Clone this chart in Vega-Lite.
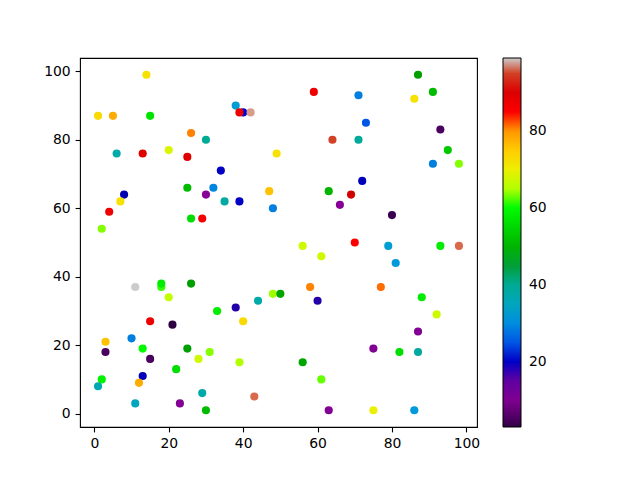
{
  "$schema": "https://vega.github.io/schema/vega-lite/v6.json",
  "width": 397,
  "height": 369,
  "autosize": {"type": "none"},
  "padding": {"left": 80, "top": 58, "right": 163, "bottom": 53},
  "background": "white",
  "config": {
    "view": {"stroke": "black", "strokeWidth": 1.1},
    "font": "DejaVu Sans",
    "axis": {
      "grid": false,
      "domain": false,
      "tickColor": "black",
      "tickSize": 4.9,
      "tickWidth": 1.1,
      "labelFont": "DejaVu Sans",
      "labelFontSize": 13.9,
      "labelColor": "black",
      "labelPadding": 4.9,
      "title": null
    }
  },
  "data": {
    "values": [
      {"x": 14, "y": 99, "c": 72}, {"x": 1, "y": 87, "c": 73}, {"x": 5, "y": 87, "c": 78}, {"x": 15, "y": 87, "c": 57},
      {"x": 26, "y": 82, "c": 81}, {"x": 30, "y": 80, "c": 40}, {"x": 6, "y": 76, "c": 37}, {"x": 13, "y": 76, "c": 89},
      {"x": 20, "y": 77, "c": 68}, {"x": 25, "y": 75, "c": 89}, {"x": 59, "y": 94, "c": 87}, {"x": 38, "y": 90, "c": 33},
      {"x": 40, "y": 88, "c": 21}, {"x": 39, "y": 88, "c": 87}, {"x": 42, "y": 88, "c": 97.5}, {"x": 64, "y": 80, "c": 95},
      {"x": 49, "y": 76, "c": 72}, {"x": 34, "y": 71, "c": 20}, {"x": 32, "y": 66, "c": 29}, {"x": 87, "y": 99, "c": 47},
      {"x": 91, "y": 94, "c": 51}, {"x": 86, "y": 92, "c": 72}, {"x": 71, "y": 93, "c": 28}, {"x": 73, "y": 85, "c": 25},
      {"x": 93, "y": 83, "c": 5}, {"x": 71, "y": 80, "c": 39}, {"x": 95, "y": 77, "c": 53}, {"x": 91, "y": 73, "c": 28},
      {"x": 98, "y": 73, "c": 63}, {"x": 72, "y": 68, "c": 19}, {"x": 8, "y": 64, "c": 18}, {"x": 7, "y": 62, "c": 72},
      {"x": 4, "y": 59, "c": 87}, {"x": 2, "y": 54, "c": 63}, {"x": 25, "y": 66, "c": 51}, {"x": 30, "y": 64, "c": 12},
      {"x": 26, "y": 57, "c": 56}, {"x": 29, "y": 57, "c": 86}, {"x": 11, "y": 37, "c": 99}, {"x": 18, "y": 37, "c": 61},
      {"x": 18, "y": 38, "c": 58}, {"x": 20, "y": 34, "c": 66}, {"x": 26, "y": 38, "c": 47}, {"x": 35, "y": 62, "c": 38},
      {"x": 39, "y": 62, "c": 20}, {"x": 47, "y": 65, "c": 76}, {"x": 48, "y": 60, "c": 28}, {"x": 63, "y": 65, "c": 50},
      {"x": 66, "y": 61, "c": 12}, {"x": 56, "y": 49, "c": 67}, {"x": 61, "y": 46, "c": 67}, {"x": 58, "y": 37, "c": 81},
      {"x": 48, "y": 35, "c": 64}, {"x": 50, "y": 35, "c": 48}, {"x": 44, "y": 33, "c": 37}, {"x": 38, "y": 31, "c": 17},
      {"x": 60, "y": 33, "c": 17}, {"x": 69, "y": 64, "c": 93}, {"x": 80, "y": 58, "c": 4}, {"x": 70, "y": 50, "c": 85},
      {"x": 79, "y": 49, "c": 33}, {"x": 93, "y": 49, "c": 58}, {"x": 98, "y": 49, "c": 96}, {"x": 81, "y": 44, "c": 32},
      {"x": 77, "y": 37, "c": 82}, {"x": 88, "y": 34, "c": 58}, {"x": 15, "y": 27, "c": 87}, {"x": 21, "y": 26, "c": 3},
      {"x": 3, "y": 21, "c": 76}, {"x": 3, "y": 18, "c": 5}, {"x": 10, "y": 22, "c": 28}, {"x": 13, "y": 19, "c": 60},
      {"x": 15, "y": 16, "c": 5}, {"x": 25, "y": 19, "c": 47}, {"x": 31, "y": 18, "c": 63}, {"x": 28, "y": 16, "c": 67},
      {"x": 22, "y": 13, "c": 56}, {"x": 13, "y": 11, "c": 19}, {"x": 12, "y": 9, "c": 78}, {"x": 2, "y": 10, "c": 59},
      {"x": 1, "y": 8, "c": 36}, {"x": 11, "y": 3, "c": 35}, {"x": 23, "y": 3, "c": 11}, {"x": 29, "y": 6, "c": 37},
      {"x": 30, "y": 1, "c": 51}, {"x": 33, "y": 30, "c": 58}, {"x": 40, "y": 27, "c": 73}, {"x": 39, "y": 15, "c": 65},
      {"x": 56, "y": 15, "c": 48}, {"x": 61, "y": 10, "c": 62}, {"x": 43, "y": 5, "c": 96}, {"x": 63, "y": 1, "c": 11},
      {"x": 92, "y": 29, "c": 67}, {"x": 87, "y": 24, "c": 11}, {"x": 75, "y": 19, "c": 11}, {"x": 82, "y": 18, "c": 56},
      {"x": 87, "y": 18, "c": 38}, {"x": 75, "y": 1, "c": 70}, {"x": 86, "y": 1, "c": 32}
    ]
  },
  "mark": {"type": "circle", "size": 66, "opacity": 1, "strokeWidth": 0},
  "encoding": {
    "x": {
      "field": "x", "type": "quantitative",
      "scale": {"domain": [-3.85, 102.85], "nice": false, "zero": false},
      "axis": {"values": [0, 20, 40, 60, 80, 100]}
    },
    "y": {
      "field": "y", "type": "quantitative",
      "scale": {"domain": [-3.9, 103.9], "nice": false, "zero": false},
      "axis": {"values": [0, 20, 40, 60, 80, 100]}
    },
    "color": {
      "field": "c", "type": "quantitative",
      "scale": {
        "domain": [3, 99],
        "range": ["#000000", "#770088", "#880099", "#0000aa", "#0000dd", "#0077dd", "#0099dd", "#00aaaa", "#00aa88", "#009900", "#00bb00", "#00dd00", "#00ff00", "#bbff00", "#eeee00", "#ffcc00", "#ff9900", "#ff0000", "#dd0000", "#cc0000", "#cccccc"]
      },
      "legend": {
        "title": null,
        "orient": "right",
        "offset": 26,
        "padding": 0,
        "gradientLength": 369,
        "gradientThickness": 18,
        "gradientStrokeColor": "black",
        "gradientStrokeWidth": 1,
        "values": [20, 40, 60, 80],
        "labelFont": "DejaVu Sans",
        "labelFontSize": 13.9,
        "labelColor": "black",
        "labelOffset": 8,
        "labelOverlap": false
      }
    }
  }
}
